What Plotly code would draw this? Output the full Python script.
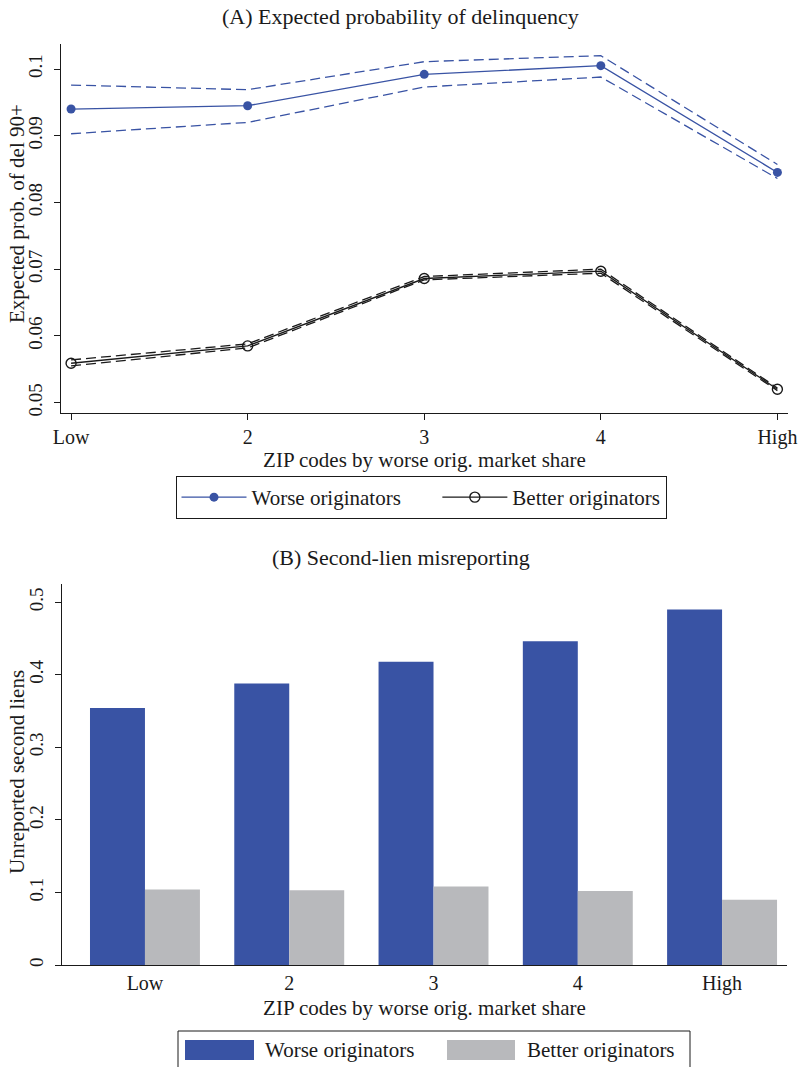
import plotly.graph_objects as go

# ZIP-code quintiles by worse-originator market share
categories = ["Low", "2", "3", "4", "High"]

# (A) expected probability of 90+ day delinquency, point estimates and 95% bands
worse_prob = [0.0940, 0.0945, 0.0992, 0.1005, 0.0845]
worse_upper = [0.0976, 0.0969, 0.1011, 0.1020, 0.0857]
worse_lower = [0.0903, 0.0920, 0.0973, 0.0988, 0.0836]

better_prob = [0.0559, 0.0585, 0.0686, 0.0697, 0.0520]
better_upper = [0.0564, 0.0588, 0.0689, 0.0700, 0.0522]
better_lower = [0.0555, 0.0582, 0.0684, 0.0694, 0.0518]

# (B) share of loans with unreported second liens
worse_misrep = [0.354, 0.388, 0.418, 0.446, 0.490]
better_misrep = [0.104, 0.103, 0.108, 0.102, 0.090]

BLUE = "#3953a4"
GRAY = "#b8b9bc"
INK = "#1a1a1a"
FONT = "Liberation Serif"
W, H = 801, 1067
NBSP = "\u00a0"


def px_x(p):
    return p / W


def px_y(p):
    return 1 - p / H


fig = go.Figure()

# ---- panel A: lines with dashed confidence bands ----
for ys in (worse_upper, worse_lower):
    fig.add_trace(go.Scatter(x=categories, y=ys, mode="lines", xaxis="x", yaxis="y",
                             line=dict(color=BLUE, width=1.3, dash="10px,5px"),
                             showlegend=False, hoverinfo="skip"))
fig.add_trace(go.Scatter(x=categories, y=worse_prob, mode="lines+markers", xaxis="x", yaxis="y",
                         name="Worse originators" + NBSP * 6, legend="legend",
                         line=dict(color=BLUE, width=1.3),
                         marker=dict(symbol="circle", size=9, color=BLUE)))
for ys in (better_upper, better_lower):
    fig.add_trace(go.Scatter(x=categories, y=ys, mode="lines", xaxis="x", yaxis="y",
                             line=dict(color=INK, width=1.3, dash="10px,5px"),
                             showlegend=False, hoverinfo="skip"))
fig.add_trace(go.Scatter(x=categories, y=better_prob, mode="lines+markers", xaxis="x", yaxis="y",
                         name="Better originators", legend="legend",
                         line=dict(color=INK, width=1.3),
                         marker=dict(symbol="circle-open", size=10, color=INK,
                                     line=dict(width=1.4, color=INK))))

# ---- panel B: grouped bars ----
fig.add_trace(go.Bar(x=categories, y=worse_misrep, xaxis="x2", yaxis="y2",
                     name="Worse originators", marker=dict(color=BLUE, line=dict(width=0)),
                     showlegend=False))
fig.add_trace(go.Bar(x=categories, y=better_misrep, xaxis="x2", yaxis="y2",
                     name="Better originators", marker=dict(color=GRAY, line=dict(width=0)),
                     showlegend=False))

xtickfont = dict(family=FONT, size=20, color=INK)
ytickfont = dict(family=FONT, size=19, color=INK)
xtitlefont = dict(family=FONT, size=21, color=INK)
ytitlefont = dict(family=FONT, size=21, color=INK)

common_x = dict(showline=True, linecolor=INK, linewidth=1.2, showgrid=False, zeroline=False,
                tickfont=xtickfont, ticks="outside", tickcolor=INK, ticklen=6, automargin=False)
common_y = dict(showline=True, linecolor=INK, linewidth=1.2, showgrid=False, zeroline=False,
                tickfont=ytickfont, ticks="outside", tickcolor=INK, ticklen=6, tickangle=-90,
                automargin=False, ticklabelstandoff=4)

fig.update_layout(
    width=W, height=H,
    margin=dict(l=0, r=0, t=0, b=0),
    paper_bgcolor="white", plot_bgcolor="white",
    font=dict(family=FONT, color=INK),
    barmode="group", bargap=0.238, bargroupgap=0,
    xaxis=dict(common_x, domain=[px_x(61), px_x(788)], anchor="y",
               type="category", range=[-0.057, 4.06],
               title=dict(text="ZIP codes by worse orig. market share", font=xtitlefont, standoff=2)),
    yaxis=dict(common_y, domain=[px_y(413.3), px_y(44)], anchor="x",
               range=[0.0484, 0.10375], tickvals=[0.05, 0.06, 0.07, 0.08, 0.09, 0.1],
               ticktext=["0.05", "0.06", "0.07", "0.08", "0.09", "0.1"]),
    xaxis2=dict(common_x, domain=[px_x(62), px_x(787)], anchor="y2",
                type="category", range=[-0.575, 4.45], ticks="",
                title=dict(text="ZIP codes by worse orig. market share", font=xtitlefont, standoff=6)),
    yaxis2=dict(common_y, domain=[px_y(965), px_y(584)], anchor="x2",
                range=[0, 0.525], tickvals=[0, 0.1, 0.2, 0.3, 0.4, 0.5],
                ticktext=["0", "0.1", "0.2", "0.3", "0.4", "0.5"]),
    legend=dict(orientation="h", x=px_x(421), xanchor="center", y=px_y(476), yanchor="top",
                bordercolor=INK, borderwidth=1, bgcolor="white",
                font=dict(family=FONT, size=21, color=INK), itemwidth=65,
                traceorder="normal"),
)

# vertical axis titles
fig.add_annotation(text="Expected prob. of del 90+", xref="paper", yref="paper",
                   x=px_x(17), y=px_y(214), textangle=-90, xanchor="center", yanchor="middle",
                   showarrow=False, font=ytitlefont)
fig.add_annotation(text="Unreported second liens", xref="paper", yref="paper",
                   x=px_x(17), y=px_y(772), textangle=-90, xanchor="center", yanchor="middle",
                   showarrow=False, font=ytitlefont)

# panel titles
fig.add_annotation(text="(A) Expected probability of delinquency", xref="paper", yref="paper",
                   x=0.5, y=px_y(17), xanchor="center", yanchor="middle", showarrow=False,
                   font=dict(family=FONT, size=22, color=INK))
fig.add_annotation(text="(B) Second-lien misreporting", xref="paper", yref="paper",
                   x=0.5, y=px_y(557), xanchor="center", yanchor="middle", showarrow=False,
                   font=dict(family=FONT, size=22, color=INK))

# legend for the bar panel with large colour patches
fig.add_shape(type="rect", xref="paper", yref="paper",
              x0=px_x(178), x1=px_x(690), y0=px_y(1075), y1=px_y(1031),
              line=dict(color=INK, width=1), fillcolor="white", layer="above")
for (x0, x1, col, label, tx) in [(185, 254, BLUE, "Worse originators", 263),
                                 (447, 515, GRAY, "Better originators", 525)]:
    fig.add_shape(type="rect", xref="paper", yref="paper",
                  x0=px_x(x0), x1=px_x(x1), y0=px_y(1060), y1=px_y(1040),
                  line=dict(width=0), fillcolor=col, layer="above")
    fig.add_annotation(text=label, xref="paper", yref="paper", x=px_x(tx), y=px_y(1050),
                       xanchor="left", yanchor="middle", showarrow=False,
                       font=dict(family=FONT, size=21, color=INK))

fig.write_html("out.html")
